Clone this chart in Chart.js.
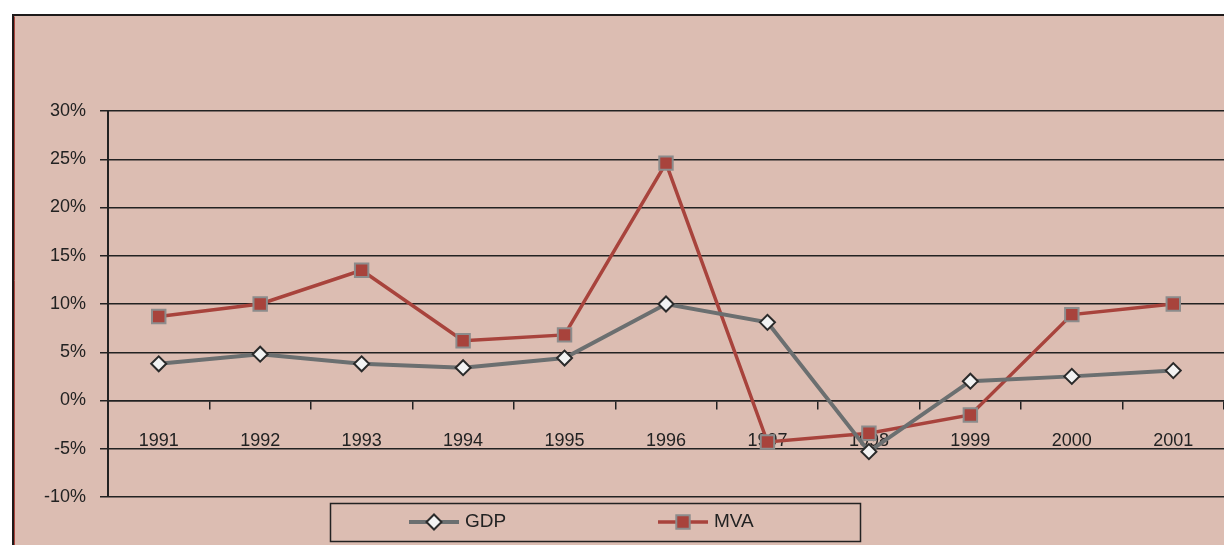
<!DOCTYPE html>
<html>
<head>
<meta charset="utf-8">
<script src="https://cdn.jsdelivr.net/npm/chart.js@4/dist/chart.umd.min.js"></script>
<style>
  html, body { margin: 0; padding: 0; background: #fff; }
  #chart { display: block; }
</style>
</head>
<body>
<canvas id="chart" width="1224" height="545"></canvas>
<script>
// data
const years = ['1991', '1992', '1993', '1994', '1995', '1996', '1997', '1998', '1999', '2000', '2001'];
const gdp = [3.8, 4.8, 3.8, 3.4, 4.4, 10.0, 8.1, -5.3, 2.0, 2.5, 3.1];
const mva = [8.7, 10.0, 13.5, 6.2, 6.8, 24.6, -4.3, -3.4, -1.5, 8.9, 10.0];
const yMin = -10, yMax = 30, yStep = 5;

const bg = '#dcbdb2';
const ink = '#222222';
const fontFamily = "'Liberation Sans Narrow', 'Liberation Sans', Arial, sans-serif";

Chart.defaults.font.family = fontFamily;
Chart.defaults.font.size = 18;
Chart.defaults.color = ink;

// pink frame with dark top/left border
const frame = {
  id: 'frame',
  beforeDraw(chart) {
    const ctx = chart.ctx;
    ctx.save();
    ctx.fillStyle = '#fff';
    ctx.fillRect(0, 0, chart.width, chart.height);
    ctx.fillStyle = bg;
    ctx.fillRect(12, 14, chart.width - 12, chart.height - 14);
    ctx.strokeStyle = '#1e1a1a';
    ctx.lineWidth = 2;
    ctx.beginPath();
    ctx.moveTo(13, chart.height);
    ctx.lineTo(13, 15);
    ctx.lineTo(chart.width, 15);
    ctx.stroke();
    ctx.strokeStyle = '#a8433c';
    ctx.lineWidth = 1;
    ctx.beginPath();
    ctx.moveTo(14.5, chart.height);
    ctx.lineTo(14.5, 16.5);
    ctx.stroke();
    ctx.restore();
  }
};

// boxed legend with line + marker samples
const boxLegend = {
  id: 'boxLegend',
  afterDraw(chart) {
    const ctx = chart.ctx;
    ctx.save();
    ctx.strokeStyle = ink;
    ctx.lineWidth = 1.5;
    ctx.strokeRect(330.5, 503.5, 530, 38);
    const slots = [409, 658];
    const cy = 522;
    chart.data.datasets.forEach((ds, i) => {
      const x0 = slots[i];
      ctx.strokeStyle = ds.borderColor;
      ctx.lineWidth = ds.borderWidth;
      ctx.beginPath();
      ctx.moveTo(x0, cy);
      ctx.lineTo(x0 + 50, cy);
      ctx.stroke();
      ctx.fillStyle = ds.pointBackgroundColor;
      ctx.strokeStyle = ds.pointBorderColor;
      ctx.lineWidth = ds.pointBorderWidth;
      Chart.helpers.drawPoint(ctx, {
        pointStyle: ds.pointStyle,
        radius: ds.pointRadius,
        borderWidth: ds.pointBorderWidth,
        rotation: 0
      }, x0 + 25, cy);
      ctx.fillStyle = ink;
      ctx.font = '19px ' + fontFamily;
      ctx.textBaseline = 'middle';
      ctx.fillText(ds.label, x0 + 56, cy);
    });
    ctx.restore();
  }
};

new Chart(document.getElementById('chart'), {
  type: 'line',
  data: {
    labels: years,
    datasets: [{
      label: 'GDP',
      data: gdp,
      borderColor: '#6b6f70',
      borderWidth: 4,
      pointStyle: 'rectRot',
      pointRadius: 7.5,
      pointHoverRadius: 7.5,
      pointBackgroundColor: '#f2f2f2',
      pointBorderColor: '#2a2a2a',
      pointBorderWidth: 2,
      tension: 0
    }, {
      label: 'MVA',
      data: mva,
      borderColor: '#a8433c',
      borderWidth: 3.5,
      pointStyle: 'rect',
      pointRadius: 9.5,
      pointHoverRadius: 9.5,
      pointBackgroundColor: '#a8433c',
      pointBorderColor: '#8c8c8c',
      pointBorderWidth: 2,
      tension: 0
    }]
  },
  options: {
    responsive: false,
    devicePixelRatio: 1,
    animation: false,
    layout: { autoPadding: false, padding: { top: 111, bottom: 48, left: 0, right: 0 } },
    plugins: {
      legend: { display: false },
      tooltip: { enabled: false }
    },
    scales: {
      x: {
        type: 'category',
        offset: true,
        position: { y: 0 },
        afterFit(s) { s.paddingRight = 0; s.paddingLeft = 0; },
        border: { display: true, color: ink, width: 1.5 },
        grid: { display: true, offset: true, drawOnChartArea: false, drawTicks: true, tickLength: 8, color: ink, lineWidth: 1.5 },
        ticks: { padding: 22, color: ink, maxRotation: 0, autoSkip: false }
      },
      y: {
        min: yMin,
        max: yMax,
        afterFit(s) { s.width = 108; },
        border: { display: true, color: ink, width: 2 },
        grid: { color: ink, lineWidth: 1.5, tickLength: 8 },
        ticks: {
          stepSize: yStep,
          padding: 14,
          color: ink,
          callback: v => v + '%'
        }
      }
    }
  },
  plugins: [frame, boxLegend]
});
</script>
</body>
</html>
